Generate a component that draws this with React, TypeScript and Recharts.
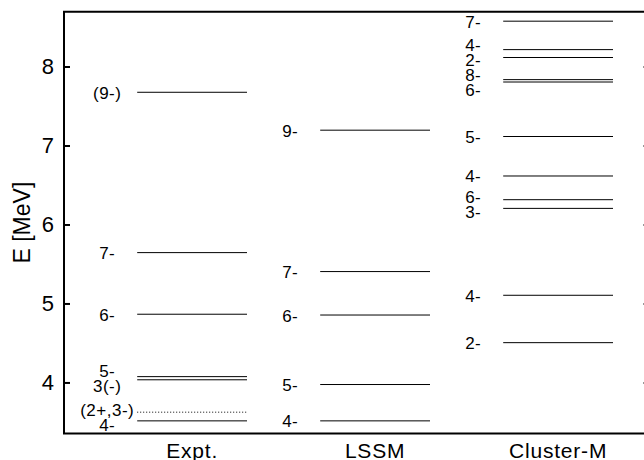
import React from 'react';
import { ComposedChart, XAxis, YAxis, ReferenceLine, ReferenceArea, Scatter } from 'recharts';

const columns = ['Expt.', 'LSSM', 'Cluster-M'];
const columnX = [0.7, 1.7, 2.7];

const exptSpins = ['4-', '(2+,3-)', '3(-)', '5-', '6-', '7-', '(9-)'];
const exptEnergies = [3.52, 3.63, 4.04, 4.08, 4.87, 5.65, 7.68];
const exptTentative = [false, true, false, false, false, false, false];

const lssmSpins = ['4-', '5-', '6-', '7-', '9-'];
const lssmEnergies = [3.52, 3.98, 4.86, 5.41, 7.2];

const clusterSpins = ['2-', '4-', '3-', '6-', '4-', '5-', '6-', '8-', '2-', '4-', '7-'];
const clusterEnergies = [4.51, 5.11, 6.21, 6.32, 6.62, 7.12, 7.81, 7.84, 8.12, 8.22, 8.58];

const yTicks = [4, 5, 6, 7, 8];

const E_MIN = 3.36;
const E_MAX = 8.7;
const X_MAX = 3.2;
const HALF = 0.3; // half width of a level line, in column units
const LABEL_GAP = 0.19; // min spacing of labels (MeV), ~15px

// push crowded labels apart, keeping each group centred on its levels
function spreadLabels(energies: number[], gap: number): number[] {
  const order = energies.map((_, i) => i).sort((a, b) => energies[a] - energies[b]);
  const groups = order.map((i) => ({ idx: [i], center: energies[i] }));
  let merged = true;
  while (merged) {
    merged = false;
    for (let g = 0; g < groups.length - 1; g++) {
      const a = groups[g];
      const b = groups[g + 1];
      const aTop = a.center + ((a.idx.length - 1) / 2) * gap;
      const bBot = b.center - ((b.idx.length - 1) / 2) * gap;
      if (bBot - aTop < gap - 1e-9) {
        const idx = [...a.idx, ...b.idx];
        const center = idx.reduce((s, i) => s + energies[i], 0) / idx.length;
        groups.splice(g, 2, { idx, center });
        merged = true;
        break;
      }
    }
  }
  const out: number[] = new Array(energies.length);
  groups.forEach((g) =>
    g.idx.forEach((i, k) => {
      out[i] = g.center + (k - (g.idx.length - 1) / 2) * gap;
    })
  );
  return out;
}

const schemes = [
  { spins: exptSpins, energies: exptEnergies, tentative: exptTentative },
  { spins: lssmSpins, energies: lssmEnergies, tentative: lssmEnergies.map(() => false) },
  { spins: clusterSpins, energies: clusterEnergies, tentative: clusterEnergies.map(() => false) },
];

const FONT = '"Liberation Sans", Arial, Helvetica, sans-serif';

const LevelLabel = (p: any) => (
  <text
    x={p.cx - 30}
    y={p.cy + 1}
    textAnchor="middle"
    dominantBaseline="central"
    fontFamily={FONT}
    fontSize={17}
    letterSpacing={0.5}
    fill="#000"
  >
    {p.payload.text}
  </text>
);

const YTick = (p: any) => (
  <text x={p.x} y={p.y} textAnchor="end" dominantBaseline="central" fontFamily={FONT} fontSize={22} fill="#000">
    {p.payload.value}
  </text>
);

const XTick = (p: any) => {
  const i = columnX.indexOf(p.payload.value);
  return (
    <text
      x={p.x}
      y={p.y + 24.5}
      textAnchor="middle"
      fontFamily={FONT}
      fontSize={21}
      letterSpacing={0.8}
      fill="#000"
    >
      {columns[i]}
    </text>
  );
};

const AxisTitle = (p: any) => {
  const vb = p.viewBox;
  const cx = 22;
  const cy = vb.y + vb.height / 2;
  return (
    <text
      x={cx}
      y={cy}
      transform={`rotate(-90, ${cx}, ${cy})`}
      textAnchor="middle"
      dominantBaseline="central"
      fontFamily={FONT}
      fontSize={23}
      fill="#000"
    >
      E [MeV]
    </text>
  );
};

export default function App() {
  return (
    <div
      style={{
        position: 'fixed',
        left: 0,
        top: 0,
        width: 644,
        height: 460,
        overflow: 'hidden',
        background: '#fff',
      }}
    >
      <ComposedChart width={700} height={460} margin={{ top: 11.7, right: 0.4, bottom: 0, left: 0 }}>
        <XAxis
          type="number"
          dataKey="x"
          domain={[0, X_MAX]}
          allowDataOverflow
          ticks={columnX}
          axisLine={false}
          tickLine={false}
          tickSize={0}
          tickMargin={0}
          height={26.5}
          tick={<XTick />}
          interval={0}
        />
        <YAxis
          yAxisId="left"
          type="number"
          dataKey="y"
          domain={[E_MIN, E_MAX]}
          allowDataOverflow
          ticks={yTicks}
          width={64}
          axisLine={false}
          tickSize={-6}
          tickMargin={16}
          tickLine={{ stroke: '#000', strokeWidth: 2 }}
          tick={<YTick />}
          interval={0}
          label={<AxisTitle />}
        />
        <YAxis
          yAxisId="right"
          orientation="right"
          type="number"
          dataKey="y"
          domain={[E_MIN, E_MAX]}
          allowDataOverflow
          ticks={yTicks}
          width={50}
          axisLine={false}
          tickSize={-6}
          tickLine={{ stroke: '#000', strokeWidth: 2 }}
          tick={() => <g />}
          interval={0}
        />
        <ReferenceArea
          yAxisId="left"
          x1={0}
          x2={X_MAX}
          y1={E_MIN}
          y2={E_MAX}
          fill="none"
          fillOpacity={0}
          stroke="#000"
          strokeWidth={2}
          ifOverflow="visible"
        />
        {schemes.map((s, c) =>
          s.energies.map((e, i) => (
            <ReferenceLine
              key={`lv-${c}-${i}`}
              yAxisId="left"
              segment={[
                { x: columnX[c] - HALF, y: e },
                { x: columnX[c] + HALF, y: e },
              ]}
              stroke="#000"
              strokeWidth={1}
              strokeDasharray={s.tentative[i] ? '1 2' : undefined}
              ifOverflow="visible"
            />
          ))
        )}
        {schemes.map((s, c) => {
          const ys = spreadLabels(s.energies, LABEL_GAP);
          const data = s.spins.map((t, i) => ({ x: columnX[c] - HALF, y: ys[i], text: t }));
          return (
            <Scatter
              key={`lab-${c}`}
              yAxisId="left"
              data={data}
              dataKey="y"
              shape={<LevelLabel />}
              isAnimationActive={false}
            />
          );
        })}
      </ComposedChart>
    </div>
  );
}
